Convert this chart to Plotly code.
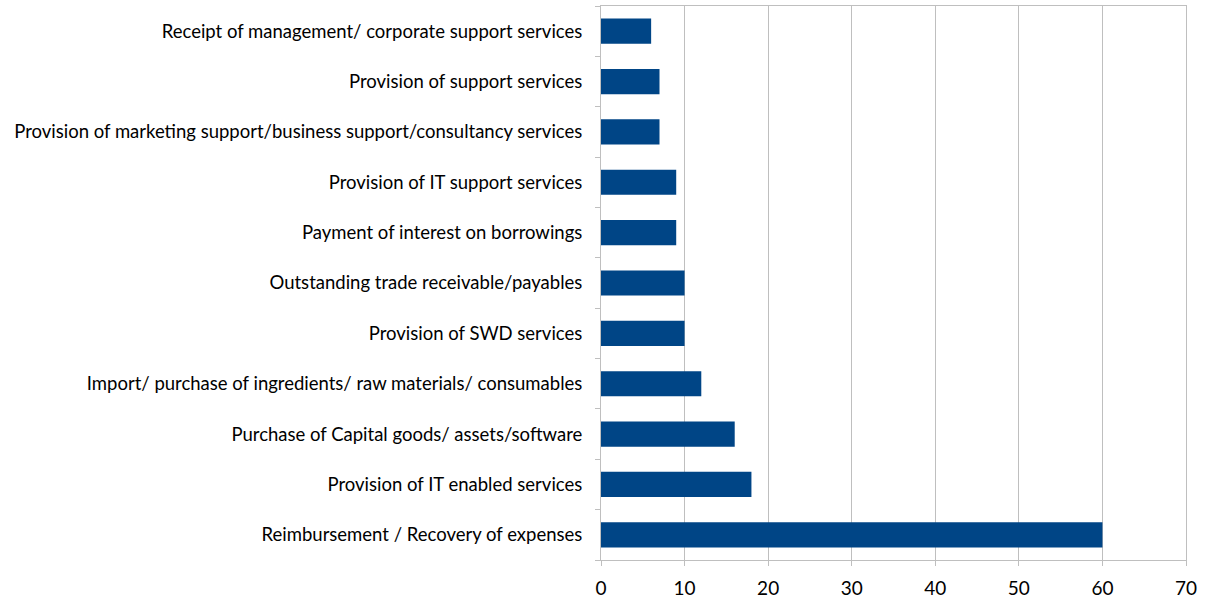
import plotly.graph_objects as go

categories = [
    "Reimbursement / Recovery of expenses",
    "Provision of IT enabled services",
    "Purchase of Capital goods/ assets/software",
    "Import/ purchase of ingredients/ raw materials/ consumables",
    "Provision of SWD services",
    "Outstanding trade receivable/payables",
    "Payment of interest on borrowings",
    "Provision of IT support services",
    "Provision of marketing support/business support/consultancy services",
    "Provision of support services",
    "Receipt of management/ corporate support services",
]
values = [60, 18, 16, 12, 10, 10, 9, 9, 7, 7, 6]
x_ticks = [0, 10, 20, 30, 40, 50, 60, 70]

fig = go.Figure(go.Bar(
    y=categories, x=values, orientation="h",
    marker=dict(color="#004586", line=dict(width=0)),
))
fig.update_layout(
    width=1211, height=603,
    margin=dict(l=601, r=25, t=6, b=43),
    plot_bgcolor="white", paper_bgcolor="white",
    bargap=0.5, showlegend=False,
    font=dict(family="Lato", color="#000000"),
)
fig.update_xaxes(
    range=[0, 70], tickvals=x_ticks, showgrid=True, gridcolor="#BFBFBF", gridwidth=1,
    showline=True, linecolor="#BFBFBF", mirror=True, ticks="outside", ticklen=5,
    tickcolor="#BFBFBF", tickfont=dict(size=19), zeroline=False, ticklabelstandoff=6,
    automargin=False,
)
fig.update_yaxes(
    type="category", tickson="boundaries", ticks="outside", ticklen=5,
    tickcolor="#BFBFBF", showline=True, linecolor="#BFBFBF", mirror=True,
    tickfont=dict(size=18.5), showgrid=False, ticklabelstandoff=14,
    automargin=False,
)
fig.write_html("out.html", config={"displayModeBar": False},
               post_script="document.body.style.margin='0';")
